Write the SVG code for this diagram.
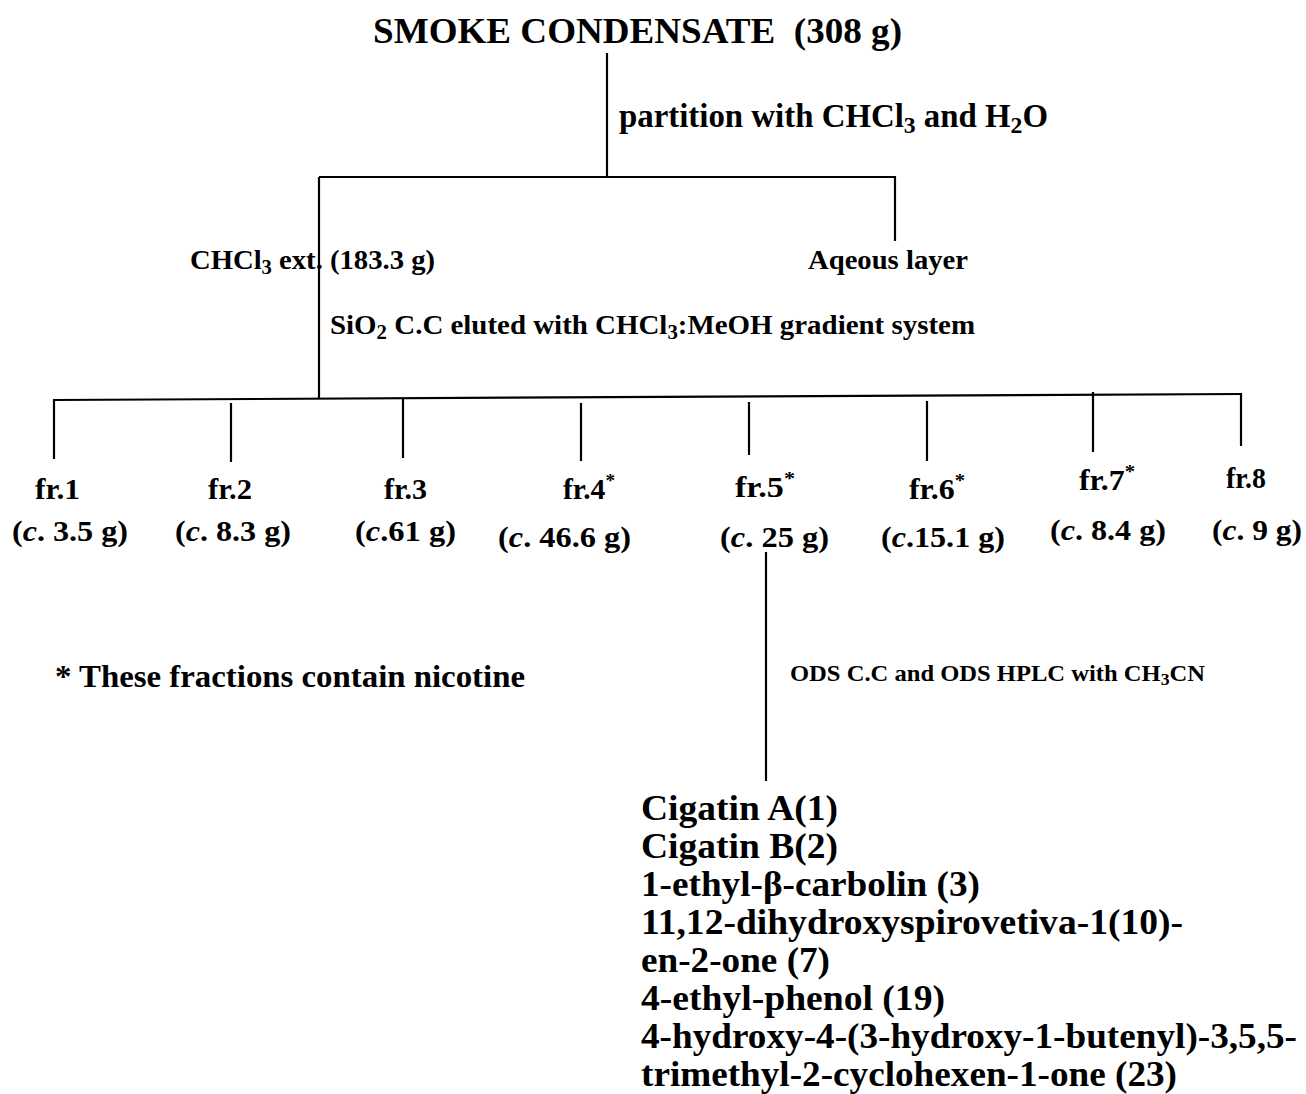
<svg xmlns="http://www.w3.org/2000/svg" width="1306" height="1094" viewBox="0 0 1306 1094">
<style>
text{font-family:"Liberation Serif","Times New Roman",serif;font-weight:bold;fill:#000}
.t{font-size:36px}
.m{font-size:33px}
.s{font-size:28px}
.f{font-size:30px}
.n{font-size:32px}
.o{font-size:23px}
.l{font-size:36px}
.sub{font-size:0.72em}
.sup{font-size:0.65em}
line{stroke:#000;stroke-width:2.2;fill:none}
</style>
<rect width="1306" height="1094" fill="#fff"/>
<g id="connectors">
<line x1="607" y1="53" x2="607" y2="177"/>
<line x1="319" y1="177" x2="896" y2="177"/>
<line x1="895" y1="177" x2="895" y2="241"/>
<line x1="319" y1="177" x2="319" y2="398"/>
<line x1="53" y1="400" x2="1242" y2="394"/>
<line x1="54" y1="400" x2="54" y2="459"/>
<line x1="231" y1="403" x2="231" y2="462"/>
<line x1="403" y1="398" x2="403" y2="458"/>
<line x1="581" y1="403" x2="581" y2="461"/>
<line x1="749" y1="402" x2="749" y2="455"/>
<line x1="927" y1="401" x2="927" y2="461"/>
<line x1="1093" y1="392" x2="1093" y2="452"/>
<line x1="1241" y1="394" x2="1241" y2="446"/>
<line x1="766" y1="552" x2="766" y2="781"/>
</g>
<g id="smoke"><text class="t" x="373" y="43" textLength="529" lengthAdjust="spacingAndGlyphs" xml:space="preserve">SMOKE CONDENSATE  (308 g)</text></g>
<g id="partition"><text class="m" x="619" y="127" textLength="429" lengthAdjust="spacingAndGlyphs">partition with CHCl<tspan class="sub" dy="6">3</tspan><tspan dy="-6"> and H</tspan><tspan class="sub" dy="6">2</tspan><tspan dy="-6">O</tspan></text></g>
<g id="chcl3ext"><text class="s" x="190" y="269" textLength="245" lengthAdjust="spacingAndGlyphs">CHCl<tspan class="sub" dy="5">3</tspan><tspan dy="-5"> ext. (183.3 g)</tspan></text></g>
<g id="aqueous"><text class="s" x="808" y="269" textLength="160" lengthAdjust="spacingAndGlyphs">Aqeous layer</text></g>
<g id="sio2"><text class="s" x="330" y="334" textLength="645" lengthAdjust="spacingAndGlyphs">SiO<tspan class="sub" dy="5">2</tspan><tspan dy="-5"> C.C eluted with CHCl</tspan><tspan class="sub" dy="5">3</tspan><tspan dy="-5">:MeOH gradient system</tspan></text></g>
<g id="fr1"><text class="f" x="35" y="499" textLength="45" lengthAdjust="spacingAndGlyphs">fr.1</text><text class="f" x="12" y="541" textLength="116" lengthAdjust="spacingAndGlyphs">(<tspan font-style="italic">c</tspan>. 3.5 g)</text></g>
<g id="fr2"><text class="f" x="208" y="499" textLength="44" lengthAdjust="spacingAndGlyphs">fr.2</text><text class="f" x="175" y="541" textLength="116" lengthAdjust="spacingAndGlyphs">(<tspan font-style="italic">c</tspan>. 8.3 g)</text></g>
<g id="fr3"><text class="f" x="384" y="499" textLength="43" lengthAdjust="spacingAndGlyphs">fr.3</text><text class="f" x="355" y="541" textLength="101" lengthAdjust="spacingAndGlyphs">(<tspan font-style="italic">c</tspan>.61 g)</text></g>
<g id="fr4"><text class="f" x="563" y="499" textLength="52" lengthAdjust="spacingAndGlyphs">fr.4<tspan class="sup" dy="-12">*</tspan></text><text class="f" x="498" y="547" textLength="133" lengthAdjust="spacingAndGlyphs">(<tspan font-style="italic">c</tspan>. 46.6 g)</text></g>
<g id="fr5"><text class="f" x="735" y="497" textLength="60" lengthAdjust="spacingAndGlyphs">fr.5<tspan class="sup" dy="-12">*</tspan></text><text class="f" x="720" y="547" textLength="109" lengthAdjust="spacingAndGlyphs">(<tspan font-style="italic">c</tspan>. 25 g)</text></g>
<g id="fr6"><text class="f" x="909" y="499" textLength="56" lengthAdjust="spacingAndGlyphs">fr.6<tspan class="sup" dy="-12">*</tspan></text><text class="f" x="881" y="547" textLength="124" lengthAdjust="spacingAndGlyphs">(<tspan font-style="italic">c</tspan>.15.1 g)</text></g>
<g id="fr7"><text class="f" x="1079" y="490" textLength="56" lengthAdjust="spacingAndGlyphs">fr.7<tspan class="sup" dy="-12">*</tspan></text><text class="f" x="1050" y="540" textLength="116" lengthAdjust="spacingAndGlyphs">(<tspan font-style="italic">c</tspan>. 8.4 g)</text></g>
<g id="fr8"><text class="f" x="1226" y="488" textLength="40" lengthAdjust="spacingAndGlyphs">fr.8</text><text class="f" x="1212" y="540" textLength="90" lengthAdjust="spacingAndGlyphs">(<tspan font-style="italic">c</tspan>. 9 g)</text></g>
<g id="note"><text class="n" x="55" y="687" textLength="470" lengthAdjust="spacingAndGlyphs">* These fractions contain nicotine</text></g>
<g id="ods"><text class="o" x="790" y="681" textLength="415" lengthAdjust="spacingAndGlyphs">ODS C.C and ODS HPLC with CH<tspan class="sub" dy="4">3</tspan><tspan dy="-4">CN</tspan></text></g>
<g id="compounds">
<text class="l" x="641" y="820" textLength="197" lengthAdjust="spacingAndGlyphs">Cigatin A(1)</text>
<text class="l" x="641" y="858" textLength="197" lengthAdjust="spacingAndGlyphs">Cigatin B(2)</text>
<text class="l" x="641" y="896" textLength="339" lengthAdjust="spacingAndGlyphs">1-ethyl-β-carbolin (3)</text>
<text class="l" x="641" y="934" textLength="542" lengthAdjust="spacingAndGlyphs">11,12-dihydroxyspirovetiva-1(10)-</text>
<text class="l" x="641" y="972" textLength="189" lengthAdjust="spacingAndGlyphs">en-2-one (7)</text>
<text class="l" x="641" y="1010" textLength="304" lengthAdjust="spacingAndGlyphs">4-ethyl-phenol (19)</text>
<text class="l" x="641" y="1048" textLength="656" lengthAdjust="spacingAndGlyphs">4-hydroxy-4-(3-hydroxy-1-butenyl)-3,5,5-</text>
<text class="l" x="641" y="1086" textLength="536" lengthAdjust="spacingAndGlyphs">trimethyl-2-cyclohexen-1-one (23)</text>
</g>
</svg>
